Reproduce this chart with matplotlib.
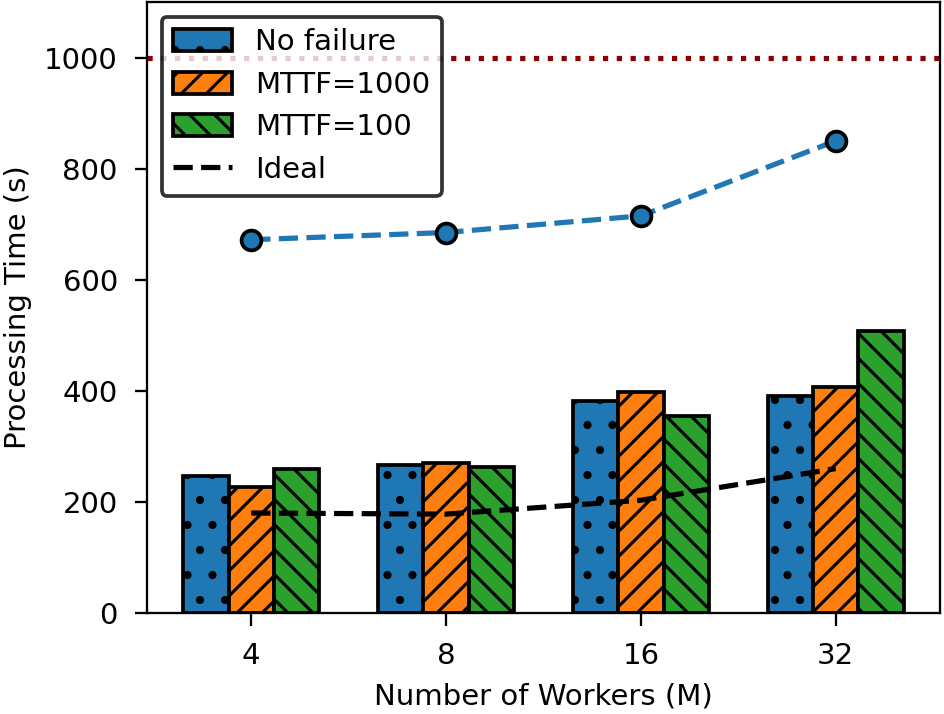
import matplotlib
matplotlib.use("Agg")
import matplotlib.pyplot as plt
import numpy as np

plt.rcParams['font.size'] = 14
plt.rcParams['hatch.linewidth'] = 1.5
plt.rcParams['axes.linewidth'] = 1.1

# workers and measured times
workers = ["4", "8", "16", "32"]
no_failure = [247, 267, 382, 391]
mttf_1000 = [227, 270, 397, 407]
mttf_100 = [259, 263, 355, 508]
ideal = [180, 178, 203, 260]
top_line = [672, 685, 715, 850]
limit = 1000

fig = plt.figure(figsize=(944 / 150, 714 / 150), dpi=150)
ax = fig.add_axes([147 / 944, 1 - 613 / 714, (940 - 147) / 944, (613 - 2) / 714])

x = np.arange(len(workers))
w = 0.7 / 3

b1 = ax.bar(x - w, no_failure, w, color='tab:blue', edgecolor='black', linewidth=1.8,
            hatch='.', label='No failure')
b2 = ax.bar(x, mttf_1000, w, color='tab:orange', edgecolor='black', linewidth=1.8,
            hatch='//', label='MTTF=1000')
b3 = ax.bar(x + w, mttf_100, w, color='tab:green', edgecolor='black', linewidth=1.8,
            hatch='\\\\', label='MTTF=100')

l1, = ax.plot(x, ideal, '--', color='black', linewidth=2.5, label='Ideal', zorder=3)
ax.plot(x, top_line, '--o', color='tab:blue', linewidth=2.5, markersize=9.5,
        markeredgecolor='black', markeredgewidth=1.8, zorder=3)
ax.axhline(limit, color='#8b0000', linestyle=':', linewidth=2.5)

ax.set_xticks(x)
ax.set_xticklabels(workers)
ax.set_ylim(0, 1100)
ax.set_yticks([0, 200, 400, 600, 800, 1000])
ax.tick_params(length=6, width=1.1, pad=8)
ax.set_xlabel("Number of Workers (M)", labelpad=6)
ax.set_ylabel("Processing Time (s)", labelpad=6)

leg = ax.legend([b1, b2, b3, l1], ['No failure', 'MTTF=1000', 'MTTF=100', 'Ideal'],
                loc='upper left', edgecolor='black', handleheight=0.8)
leg.get_frame().set_linewidth(1.8)

fig.savefig("out.png", dpi=150)
